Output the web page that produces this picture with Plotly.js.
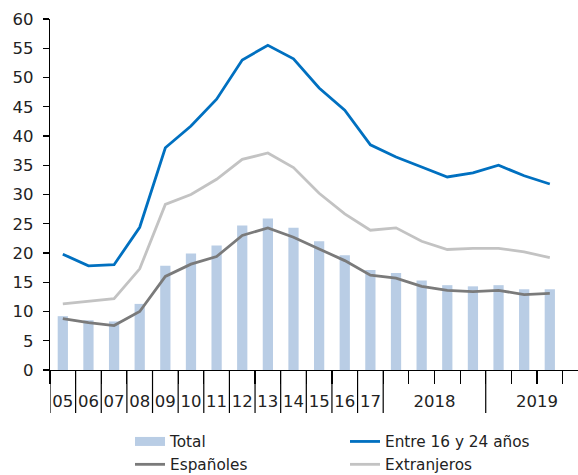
<!DOCTYPE html>
<html>
<head>
<meta charset="utf-8">
<script src="https://cdn.plot.ly/plotly-3.0.1.min.js"></script>
<style>html,body{margin:0;padding:0;background:#fff;overflow:hidden}#chart{width:578px;height:475px}</style>
</head>
<body>
<div id="chart"></div>
<script>
// Category positions (index), 05..17 annual, 2018 Q1-Q4, 2019 Q1-Q3
var categories = ['05','06','07','08','09','10','11','12','13','14','15','16','17',
  '2018T1','2018T2','2018T3','2018T4','2019T1','2019T2','2019T3'];
var total      = [9.2, 8.5, 8.3, 11.3, 17.8, 19.9, 21.3, 24.7, 25.9, 24.3, 22.0, 19.6, 17.1, 16.6, 15.3, 14.5, 14.3, 14.5, 13.8, 13.8];
var jovenes    = [19.8, 17.8, 18.0, 24.4, 38.0, 41.7, 46.3, 53.0, 55.5, 53.2, 48.2, 44.4, 38.5, 36.4, 34.7, 33.0, 33.7, 35.0, 33.2, 31.8];
var espanoles  = [8.8, 8.1, 7.6, 10.0, 16.0, 18.1, 19.4, 23.0, 24.3, 22.7, 20.7, 18.7, 16.2, 15.7, 14.3, 13.6, 13.4, 13.6, 12.9, 13.1];
var extranjeros= [11.3, 11.8, 12.2, 17.3, 28.3, 30.0, 32.6, 36.0, 37.1, 34.6, 30.2, 26.7, 23.9, 24.3, 22.0, 20.6, 20.8, 20.8, 20.2, 19.2];
var tickLabels = ['05','06','07','08','09','10','11','12','13','14','15','16','17','2018','2019'];
var tickLabelPos = [0,1,2,3,4,5,6,7,8,9,10,11,12,14.5,18.5];

var xIdx = categories.map(function(c,i){return i;});
var bounds = [];
for (var b = -0.5; b <= 20.5; b += 1) bounds.push(b);
var longBounds = [-0.5,0.5,1.5,2.5,3.5,4.5,5.5,6.5,7.5,8.5,9.5,10.5,11.5,12.5,16.5];

var FONT = 'DejaVu Sans, sans-serif';
var C_BAR = '#b9cde5', C_BLUE = '#0070c0', C_DARK = '#7a7a7a', C_LIGHT = '#c3c3c3';

var traces = [
  {type:'scatter', mode:'lines', name:'Total', x:[null], y:[null], legend:'legend',
   line:{color:C_BAR, width:9}, hoverinfo:'skip'},
  {type:'scatter', mode:'lines', name:'Españoles', x:xIdx, y:espanoles, legend:'legend',
   line:{color:C_DARK, width:2.8}},
  {type:'scatter', mode:'lines', name:'Entre 16 y 24 años', x:xIdx, y:jovenes, legend:'legend2',
   line:{color:C_BLUE, width:2.8}},
  {type:'scatter', mode:'lines', name:'Extranjeros', x:xIdx, y:extranjeros, legend:'legend2',
   line:{color:C_LIGHT, width:2.8}},
  {type:'bar', name:'Total', x:xIdx, y:total, marker:{color:C_BAR}, showlegend:false},
  {type:'scatter', mode:'markers', x:[0], y:[null], xaxis:'x2', showlegend:false, hoverinfo:'skip'}
];

var shapes = longBounds.map(function(v){
  return {type:'line', xref:'x', yref:'paper', x0:v, x1:v, y0:0, y1:-0.1225,
          line:{color:'#000', width:1.2}, layer:'above'};
});

var legendCommon = {orientation:'v', xanchor:'left', yanchor:'top', yref:'container', xref:'container',
  font:{family:FONT, size:15.3, color:'#222'}, bgcolor:'rgba(0,0,0,0)', tracegroupgap:0,
  itemclick:false, borderwidth:0};

var layout = {
  width:578, height:475,
  margin:{l:50, r:0, t:19, b:105, autoexpand:false},
  paper_bgcolor:'#fff', plot_bgcolor:'#fff',
  font:{family:FONT, size:16, color:'#222'},
  bargap:0.6,
  showlegend:true,
  xaxis:{range:[-0.5,20.1], tickvals:bounds, showticklabels:false, ticks:'outside',
         ticklen:13, tickwidth:1.2, tickcolor:'#000', showline:true, linecolor:'#000',
         linewidth:1.2, showgrid:false, zeroline:false, fixedrange:true},
  xaxis2:{overlaying:'x', anchor:'y', side:'bottom', range:[-0.5,20.1],
          tickvals:tickLabelPos, ticktext:tickLabels, ticks:'outside', ticklen:16,
          tickcolor:'rgba(0,0,0,0)', showline:false, showgrid:false, zeroline:false,
          tickfont:{family:FONT, size:16.5, color:'#222'}},
  yaxis:{range:[0,60], dtick:5, tick0:0, ticks:'outside', ticklen:6, tickwidth:1.2,
         tickcolor:'#000', showline:true, linecolor:'#000', linewidth:1.2,
         ticklabelstandoff:6,
         showgrid:false, zeroline:false, tickfont:{family:FONT, size:16.5, color:'#222'}},
  legend:Object.assign({}, legendCommon, {x:(132-2)/578, y:1-425/475}),
  legend2:Object.assign({}, legendCommon, {x:(347-2)/578, y:1-425/475}),
  shapes:shapes
};

Plotly.newPlot('chart', traces, layout, {displayModeBar:false, staticPlot:true});
</script>
</body>
</html>
